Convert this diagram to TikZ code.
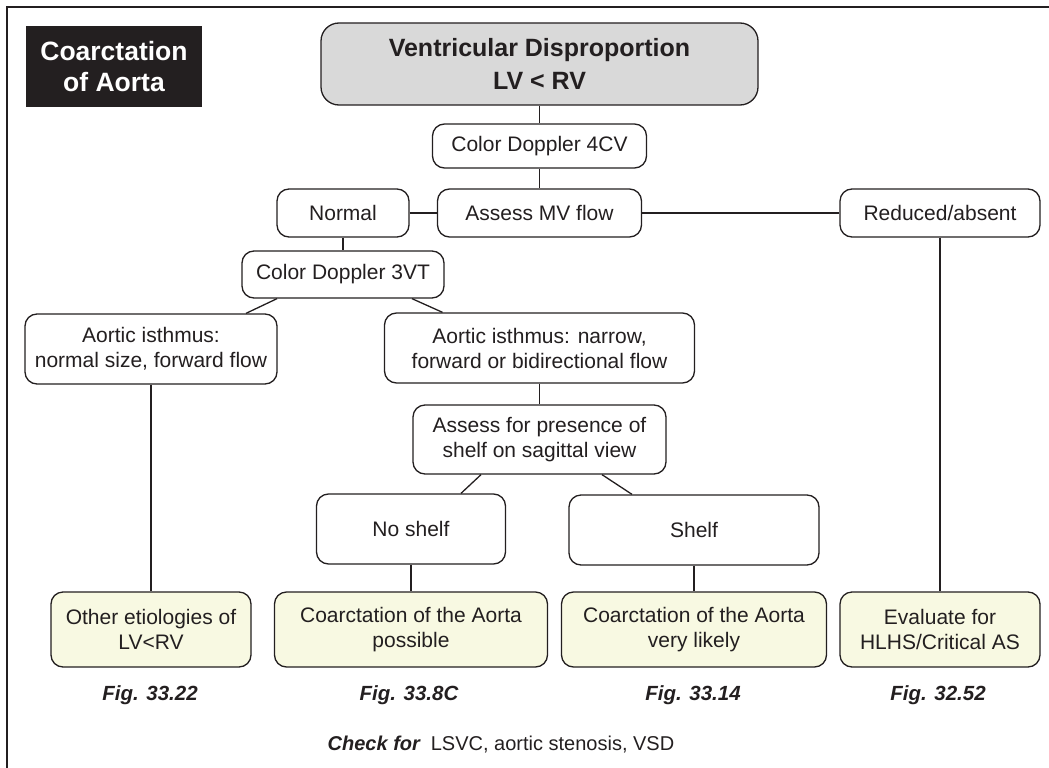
\documentclass[tikz,border=0pt]{standalone}
\usepackage{fontspec}
\setmainfont{Liberation Sans}
\usetikzlibrary{positioning}
\definecolor{ink}{RGB}{35,31,32}
\definecolor{graybox}{RGB}{217,217,217}
\definecolor{yellowbox}{RGB}{248,249,226}
\tikzset{
  box/.style={draw=ink, line width=1.3pt, rounded corners=12pt, align=center, inner sep=0pt, fill=white, text=ink,
    font=\fontsize{21}{25}\selectfont},
  endbox/.style={box, fill=yellowbox},
  headbox/.style={draw=ink, line width=1.3pt, rounded corners=18pt, align=center, inner sep=0pt, fill=graybox, text=ink,
    font=\fontsize{25}{33}\selectfont\bfseries},
  titlebox/.style={fill=ink, text=white, align=center, inner sep=0pt, font=\fontsize{26.5}{31}\selectfont\bfseries},
  figlabel/.style={text=ink, font=\fontsize{20.5}{24}\selectfont\bfseries\itshape},
  conn/.style={draw=ink, line width=1.3pt}
}
\begin{document}
\begin{tikzpicture}[x=1pt,y=-1pt]
\useasboundingbox (0,0) rectangle (1049,768);
\draw[ink, line width=2pt] (7,768) -- (7,7) -- (1049,7);

\node[titlebox, minimum width=176pt, minimum height=81pt] (title) at (114,66.5) {Coarctation\\of Aorta};
\node[headbox, minimum width=437pt, minimum height=82pt] (top) at (539.5,64) {Ventricular Disproportion\\LV < RV};

\node[box, minimum width=214pt, minimum height=44pt] (c4) at (539.5,146) {Color Doppler 4CV};
\node[box, minimum width=204pt, minimum height=48pt] (mv) at (539.5,213) {Assess MV flow};
\node[box, minimum width=132pt, minimum height=48pt] (normal) at (343,213) {Normal};
\node[box, minimum width=200pt, minimum height=48pt] (reduced) at (940,213) {Reduced/absent};
\node[box, minimum width=202pt, minimum height=47pt] (v3) at (343,274.5) {Color Doppler 3VT};
\node[box, minimum width=252pt, minimum height=70pt] (ain) at (151,349) {Aortic isthmus:\\normal size, forward flow};
\node[box, minimum width=310pt, minimum height=70pt] (ana) at (539.5,348) {Aortic isthmus: narrow,\\forward or bidirectional flow};
\node[box, minimum width=253pt, minimum height=69pt] (ap) at (539.5,439.5) {Assess for presence of\\shelf on sagittal view};
\node[box, minimum width=189pt, minimum height=70pt] (ns) at (411,529) {No shelf};
\node[box, minimum width=250pt, minimum height=70pt] (sh) at (694,530) {Shelf};

\node[endbox, minimum width=200pt, minimum height=75pt] (b1) at (151,629.5) {Other etiologies of\\LV<RV};
\node[endbox, minimum width=273pt, minimum height=75pt] (b2) at (411,629.5) {Coarctation of the Aorta\\possible};
\node[endbox, minimum width=265pt, minimum height=75pt] (b3) at (694,629.5) {Coarctation of the Aorta\\very likely};
\node[endbox, minimum width=200pt, minimum height=75pt] (b4) at (940,629.5) {Evaluate for\\HLHS/Critical AS};

\node[figlabel] (f1) at (150,695) {Fig. 33.22};
\node[figlabel] (f2) at (409,695) {Fig. 33.8C};
\node[figlabel] (f3) at (693,695) {Fig. 33.14};
\node[figlabel] (f4) at (938,695) {Fig. 32.52};

\node[text=ink, font=\fontsize{20}{24}\selectfont] (check) at (501,745) {\textbf{\textit{Check for}}\enspace LSVC, aortic stenosis, VSD};

\draw[conn] (top.south) -- (c4.north);
\draw[conn] (c4.south) -- (mv.north);
\draw[conn] (normal.east) -- (mv.west);
\draw[conn] (mv.east) -- (reduced.west);
\draw[conn] (normal.south) -- (v3.north);
\draw[conn] ([xshift=-66pt]v3.south) -- ([xshift=95pt]ain.north);
\draw[conn] ([xshift=69pt]v3.south) -- ([xshift=-97pt]ana.north);
\draw[conn] (ain.south) -- (b1.north);
\draw[conn] (ana.south) -- (ap.north);
\draw[conn] ([xshift=-58.5pt]ap.south) -- ([xshift=50pt]ns.north);
\draw[conn] ([xshift=62.5pt]ap.south) -- ([xshift=-62pt]sh.north);
\draw[conn] (ns.south) -- (b2.north);
\draw[conn] (sh.south) -- (b3.north);
\draw[conn] (reduced.south) -- (b4.north);
\end{tikzpicture}
\end{document}
